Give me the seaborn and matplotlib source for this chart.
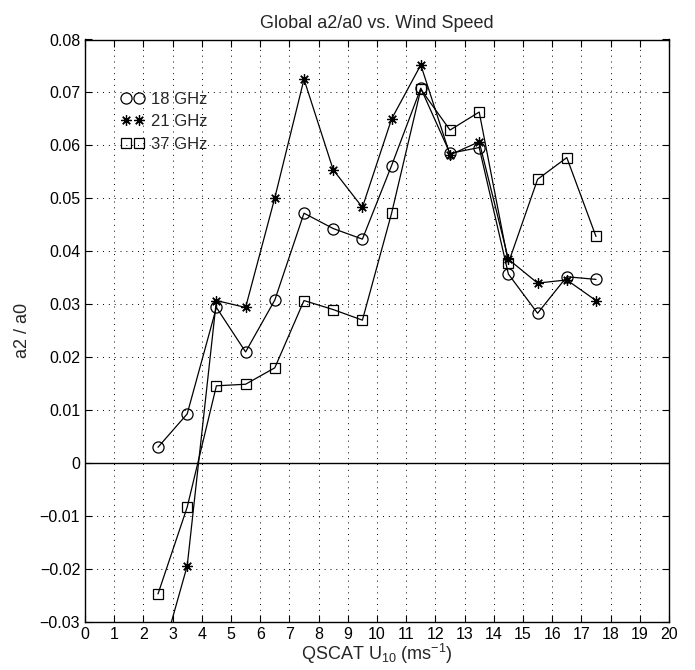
import matplotlib
matplotlib.use("Agg")
import matplotlib.pyplot as plt
import seaborn as sns
import pandas as pd
from matplotlib.lines import Line2D

wind = [2.5, 3.5, 4.5, 5.5, 6.5, 7.5, 8.5, 9.5, 10.5, 11.5, 12.5, 13.5, 14.5, 15.5, 16.5, 17.5]
ghz18 = [0.003, 0.0093, 0.0294, 0.021, 0.0308, 0.0472, 0.0443, 0.0423, 0.0562, 0.0708, 0.0585, 0.0596, 0.0357, 0.0283, 0.0352, 0.0347]
ghz21 = [-0.039, -0.0194, 0.0307, 0.0294, 0.0501, 0.0725, 0.0554, 0.0483, 0.065, 0.0752, 0.0582, 0.0607, 0.0385, 0.0340, 0.0346, 0.0307]
ghz37 = [-0.0247, -0.0083, 0.0146, 0.0149, 0.018, 0.0307, 0.0290, 0.0270, 0.0472, 0.0706, 0.0629, 0.0663, 0.0378, 0.0536, 0.0577, 0.0428]
labels = ["18 GHz", "21 GHz", "37 GHz"]
xticks = list(range(0, 21))
yticks = [-0.03, -0.02, -0.01, 0, 0.01, 0.02, 0.03, 0.04, 0.05, 0.06, 0.07, 0.08]

sns.set_style("ticks")
plt.rcParams['font.family'] = ['Liberation Sans', 'DejaVu Sans']
plt.rcParams['mathtext.default'] = 'regular'

fig = plt.figure(figsize=(6.95, 6.7), dpi=100)
ax = fig.add_axes([85/695, 1-622/670, (669-85)/695, (622-39.5)/670])

markers = ['o', (8, 2, 0), 's']
msizes = [8, 7.5, 6.5]
series = [ghz18, ghz21, ghz37]
for vals, m, ms in zip(series, markers, msizes):
    df = pd.DataFrame({"wind": wind, "val": vals})
    sns.lineplot(data=df, x="wind", y="val", ax=ax, color="black", lw=0.9,
                 marker=m, markersize=ms, markerfacecolor="none",
                 markeredgecolor="black", markeredgewidth=0.9, clip_on=True)

ax.axhline(0, color="black", lw=1.0, zorder=1)
ax.set_xlim(0, 20)
ax.set_ylim(-0.03, 0.08)
ax.set_xticks(xticks)
ax.set_xticklabels([str(t) for t in xticks])
ax.set_yticks(yticks)
ax.set_yticklabels([("%g" % t).replace("-", "\u2212") if t != 0 else "0" for t in yticks])
ax.grid(True, color="black", linestyle=(0, (1, 5)), linewidth=0.7)
ax.tick_params(direction="in", top=True, right=True, length=5, width=0.8, labelsize=11.5, colors="black")
for s in ax.spines.values():
    s.set_visible(True)
    s.set_color("black")
    s.set_linewidth(1.0)

ax.set_title("Global a2/a0 vs. Wind Speed", fontsize=13, pad=8)
ax.set_xlabel("QSCAT U$_{10}$ (ms$^{-1}$)", fontsize=13, labelpad=0)
ax.set_ylabel("a2 / a0", fontsize=13, labelpad=6)

handles = [Line2D([], [], linestyle="none", marker=m, markersize=ms, markerfacecolor="none",
                  markeredgecolor="black", markeredgewidth=0.9) for m, ms in zip(markers, msizes)]
ax.legend(handles, labels, loc="upper left", bbox_to_anchor=(0.05, 0.922), frameon=False,
          numpoints=2, fontsize=12, handlelength=1.4, handletextpad=0.4, labelspacing=0.45,
          borderaxespad=0)

fig.savefig("out.png", dpi=100, facecolor="white")
